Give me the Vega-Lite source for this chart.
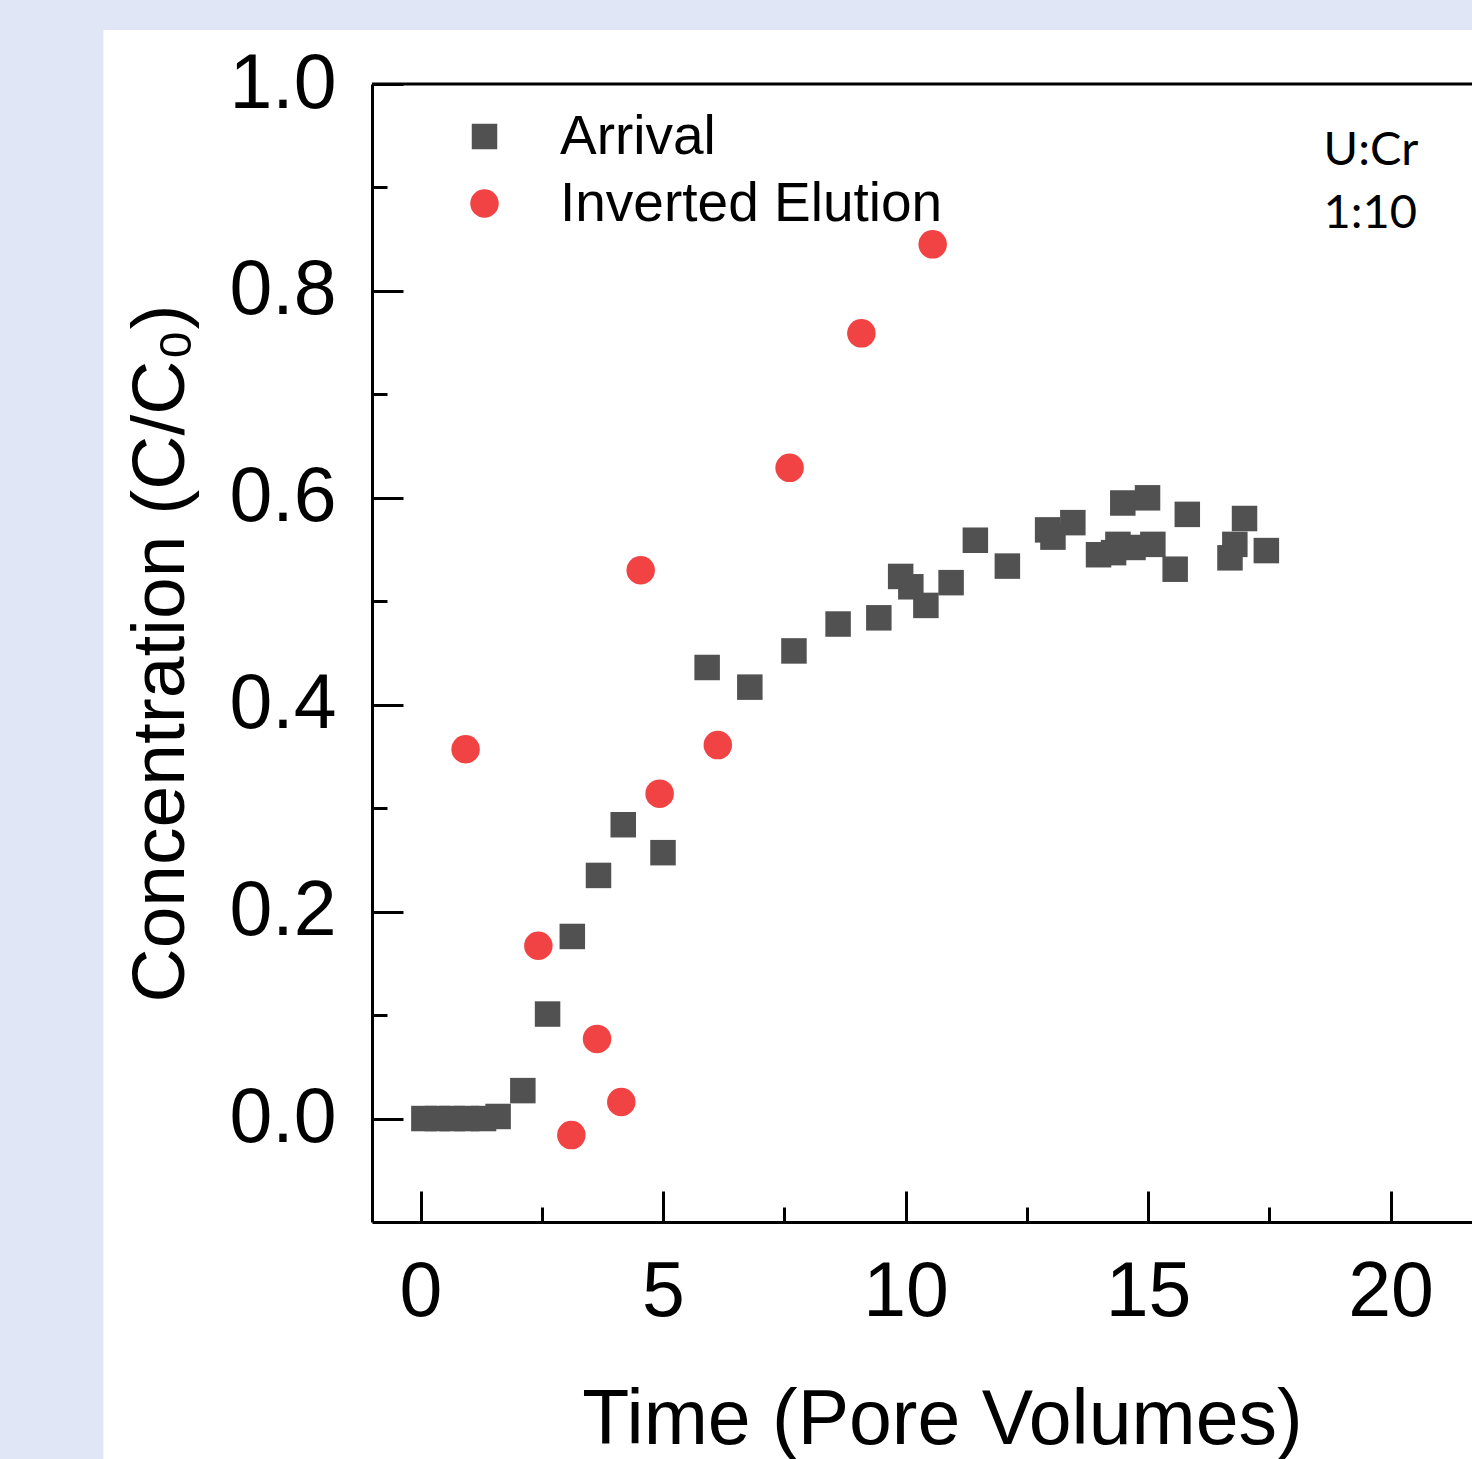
{
  "$schema": "https://vega.github.io/schema/vega-lite/v6.json",
  "autosize": {"type": "none"},
  "padding": {"left": 372, "top": 84, "right": 0, "bottom": 237},
  "width": 1100,
  "height": 1138,
  "background": "#E0E6F5",
  "config": {"font": "Liberation Sans", "view": {"stroke": null}},
  "datasets": {
    "points": [
      {"series": "Arrival", "pv": 0.07, "c": 0.0},
      {"series": "Arrival", "pv": 0.35, "c": 0.0},
      {"series": "Arrival", "pv": 0.65, "c": 0.0},
      {"series": "Arrival", "pv": 0.95, "c": 0.0},
      {"series": "Arrival", "pv": 1.3, "c": 0.0},
      {"series": "Arrival", "pv": 1.6, "c": 0.002},
      {"series": "Arrival", "pv": 2.11, "c": 0.027},
      {"series": "Arrival", "pv": 2.62, "c": 0.101},
      {"series": "Arrival", "pv": 3.13, "c": 0.176},
      {"series": "Arrival", "pv": 3.67, "c": 0.235},
      {"series": "Arrival", "pv": 4.18, "c": 0.284},
      {"series": "Arrival", "pv": 5.0, "c": 0.257},
      {"series": "Arrival", "pv": 5.91, "c": 0.436},
      {"series": "Arrival", "pv": 6.79, "c": 0.417},
      {"series": "Arrival", "pv": 7.7, "c": 0.452},
      {"series": "Arrival", "pv": 8.61, "c": 0.478},
      {"series": "Arrival", "pv": 9.45, "c": 0.484},
      {"series": "Arrival", "pv": 9.9, "c": 0.524},
      {"series": "Arrival", "pv": 10.11, "c": 0.514},
      {"series": "Arrival", "pv": 10.42, "c": 0.496},
      {"series": "Arrival", "pv": 10.94, "c": 0.518},
      {"series": "Arrival", "pv": 11.44, "c": 0.559},
      {"series": "Arrival", "pv": 12.1, "c": 0.534},
      {"series": "Arrival", "pv": 12.93, "c": 0.569},
      {"series": "Arrival", "pv": 13.04, "c": 0.562},
      {"series": "Arrival", "pv": 13.45, "c": 0.576},
      {"series": "Arrival", "pv": 13.98, "c": 0.545},
      {"series": "Arrival", "pv": 14.29, "c": 0.547},
      {"series": "Arrival", "pv": 14.38, "c": 0.555},
      {"series": "Arrival", "pv": 14.48, "c": 0.595},
      {"series": "Arrival", "pv": 14.69, "c": 0.552},
      {"series": "Arrival", "pv": 14.99, "c": 0.6},
      {"series": "Arrival", "pv": 15.1, "c": 0.555},
      {"series": "Arrival", "pv": 15.56, "c": 0.531},
      {"series": "Arrival", "pv": 15.81, "c": 0.584},
      {"series": "Arrival", "pv": 16.69, "c": 0.542},
      {"series": "Arrival", "pv": 16.79, "c": 0.555},
      {"series": "Arrival", "pv": 16.99, "c": 0.58},
      {"series": "Arrival", "pv": 17.44, "c": 0.549},
      {"series": "Inverted Elution", "pv": 0.93, "c": 0.357},
      {"series": "Inverted Elution", "pv": 2.43, "c": 0.167},
      {"series": "Inverted Elution", "pv": 3.11, "c": -0.016},
      {"series": "Inverted Elution", "pv": 3.64, "c": 0.077},
      {"series": "Inverted Elution", "pv": 4.14, "c": 0.016},
      {"series": "Inverted Elution", "pv": 4.54, "c": 0.53},
      {"series": "Inverted Elution", "pv": 4.93, "c": 0.314},
      {"series": "Inverted Elution", "pv": 6.13, "c": 0.361},
      {"series": "Inverted Elution", "pv": 7.61, "c": 0.629},
      {"series": "Inverted Elution", "pv": 9.09, "c": 0.759},
      {"series": "Inverted Elution", "pv": 10.56, "c": 0.845}
    ]
  },
  "layer": [
    {
      "data": {"values": [{}]},
      "mark": {"type": "rect", "color": "white"},
      "encoding": {
        "x": {"datum": -6.536, "type": "quantitative", "scale": {"domain": [-1, 21.68], "nice": false, "zero": false},
          "axis": {
            "title": "Time (Pore Volumes)",
            "values": [0, 2.5, 5, 7.5, 10, 12.5, 15, 17.5, 20],
            "format": "d",
            "labelExpr": "datum.value % 5 == 0 ? datum.label : ''",
            "grid": false, "zindex": 1,
            "domainColor": "black", "domainWidth": 3,
            "tickColor": "black", "tickWidth": 3,
            "tickSize": {"condition": {"test": "datum.value % 5 == 0", "value": -31}, "value": -15},
            "labelPadding": 63,
            "labelFontSize": 77, "labelColor": "black", "labelFont": "Liberation Sans",
            "labelFlush": false, "labelOverlap": false,
            "titleFontSize": 77, "titleFontWeight": "normal", "titleColor": "black", "titleFont": "Liberation Sans",
            "titleX": 570, "titleY": 221, "titleBaseline": "alphabetic", "titleAlign": "center", "titleAnchor": null
          }},
        "x2": {"datum": 25},
        "y": {"datum": 1.0522, "type": "quantitative", "scale": {"domain": [-0.1, 1.0], "nice": false, "zero": false},
          "axis": {
            "title": "Concentration (C/C₀)",
            "values": [0, 0.1, 0.2, 0.3, 0.4, 0.5, 0.6, 0.7, 0.8, 0.9, 1.0],
            "format": ".1f",
            "labelExpr": "abs(round(datum.value * 10)) % 2 == 0 ? datum.label : ''",
            "grid": false, "zindex": 1,
            "domainColor": "black", "domainWidth": 3,
            "tickColor": "black", "tickWidth": 3,
            "tickSize": {"condition": {"test": "abs(round(datum.value * 10)) % 2 == 0", "value": -31}, "value": -15},
            "labelPadding": 67,
            "labelFontSize": 77, "labelColor": "black", "labelFont": "Liberation Sans",
            "labelFlush": false, "labelOverlap": false, "labelBaseline": "middle",
            "titleFontSize": 75, "titleFontWeight": "normal", "titleColor": "black", "titleFont": "Liberation Sans",
            "titleX": -189, "titleY": 569, "titleAngle": -90, "titleBaseline": "alphabetic", "titleAlign": "center", "titleAnchor": null
          }},
        "y2": {"datum": -0.5}
      }
    },
    {
      "data": {"values": [{}]},
      "mark": {"type": "rule", "color": "black", "strokeWidth": 3},
      "encoding": {
        "y": {"datum": 1.0, "type": "quantitative", "scale": {"domain": [-0.1, 1.0], "nice": false, "zero": false},
          "axis": {
            "title": "Concentration (C/C₀)",
            "values": [0, 0.1, 0.2, 0.3, 0.4, 0.5, 0.6, 0.7, 0.8, 0.9, 1.0],
            "format": ".1f",
            "labelExpr": "abs(round(datum.value * 10)) % 2 == 0 ? datum.label : ''",
            "grid": false, "zindex": 1,
            "domainColor": "black", "domainWidth": 3,
            "tickColor": "black", "tickWidth": 3,
            "tickSize": {"condition": {"test": "abs(round(datum.value * 10)) % 2 == 0", "value": -31}, "value": -15},
            "labelPadding": 67,
            "labelFontSize": 77, "labelColor": "black", "labelFont": "Liberation Sans",
            "labelFlush": false, "labelOverlap": false, "labelBaseline": "middle",
            "titleFontSize": 75, "titleFontWeight": "normal", "titleColor": "black", "titleFont": "Liberation Sans",
            "titleX": -189, "titleY": 569, "titleAngle": -90, "titleBaseline": "alphabetic", "titleAlign": "center", "titleAnchor": null
          }}
      }
    },
    {
      "data": {"name": "points"},
      "mark": {"type": "point", "filled": true, "opacity": 1, "strokeWidth": 0},
      "encoding": {
        "x": {
          "field": "pv", "type": "quantitative",
          "scale": {"domain": [-1, 21.68], "nice": false, "zero": false},
          "axis": {
            "title": "Time (Pore Volumes)",
            "values": [0, 2.5, 5, 7.5, 10, 12.5, 15, 17.5, 20],
            "format": "d",
            "labelExpr": "datum.value % 5 == 0 ? datum.label : ''",
            "grid": false, "zindex": 1,
            "domainColor": "black", "domainWidth": 3,
            "tickColor": "black", "tickWidth": 3,
            "tickSize": {"condition": {"test": "datum.value % 5 == 0", "value": -31}, "value": -15},
            "labelPadding": 63,
            "labelFontSize": 77, "labelColor": "black", "labelFont": "Liberation Sans",
            "labelFlush": false, "labelOverlap": false,
            "titleFontSize": 77, "titleFontWeight": "normal", "titleColor": "black", "titleFont": "Liberation Sans",
            "titleX": 570, "titleY": 221, "titleBaseline": "alphabetic", "titleAlign": "center", "titleAnchor": null
          }
        },
        "y": {
          "field": "c", "type": "quantitative",
          "scale": {"domain": [-0.1, 1.0], "nice": false, "zero": false},
          "axis": {
            "title": "Concentration (C/C₀)",
            "values": [0, 0.1, 0.2, 0.3, 0.4, 0.5, 0.6, 0.7, 0.8, 0.9, 1.0],
            "format": ".1f",
            "labelExpr": "abs(round(datum.value * 10)) % 2 == 0 ? datum.label : ''",
            "grid": false, "zindex": 1,
            "domainColor": "black", "domainWidth": 3,
            "tickColor": "black", "tickWidth": 3,
            "tickSize": {"condition": {"test": "abs(round(datum.value * 10)) % 2 == 0", "value": -31}, "value": -15},
            "labelPadding": 67,
            "labelFontSize": 77, "labelColor": "black", "labelFont": "Liberation Sans",
            "labelFlush": false, "labelOverlap": false, "labelBaseline": "middle",
            "titleFontSize": 75, "titleFontWeight": "normal", "titleColor": "black", "titleFont": "Liberation Sans",
            "titleX": -189, "titleY": 569, "titleAngle": -90, "titleBaseline": "alphabetic", "titleAlign": "center", "titleAnchor": null
          }
        },
        "color": {
          "field": "series", "type": "nominal",
          "scale": {"domain": ["Arrival", "Inverted Elution"], "range": ["#515151", "#F14343"]},
          "legend": {"orient": "none", "legendX": 85, "legendY": 25, "title": null, "padding": 0, "labelFontSize": 55, "labelFont": "Liberation Sans", "labelColor": "black", "labelOffset": 48, "rowPadding": 11, "labelLimit": 0, "symbolStrokeWidth": 0, "symbolOpacity": 1}
        },
        "shape": {
          "field": "series", "type": "nominal",
          "scale": {"domain": ["Arrival", "Inverted Elution"], "range": ["square", "circle"]},
          "legend": {"orient": "none", "legendX": 85, "legendY": 25, "title": null, "padding": 0, "labelFontSize": 55, "labelFont": "Liberation Sans", "labelColor": "black", "labelOffset": 48, "rowPadding": 11, "labelLimit": 0, "symbolStrokeWidth": 0, "symbolOpacity": 1}
        },
        "size": {
          "field": "series", "type": "nominal",
          "scale": {"domain": ["Arrival", "Inverted Elution"], "range": [650, 812]},
          "legend": {"orient": "none", "legendX": 85, "legendY": 25, "title": null, "padding": 0, "labelFontSize": 55, "labelFont": "Liberation Sans", "labelColor": "black", "labelOffset": 48, "rowPadding": 11, "labelLimit": 0, "symbolStrokeWidth": 0, "symbolOpacity": 1}
        }
      }
    },
    {
      "data": {"values": [{}]},
      "mark": {"type": "text", "align": "left", "baseline": "alphabetic", "font": "Lato", "fontSize": 47, "color": "black", "lineHeight": 63},
      "encoding": {
        "x": {"datum": 18.62, "type": "quantitative", "scale": {"domain": [-1, 21.68], "nice": false, "zero": false},
          "axis": {
            "title": "Time (Pore Volumes)",
            "values": [0, 2.5, 5, 7.5, 10, 12.5, 15, 17.5, 20],
            "format": "d",
            "labelExpr": "datum.value % 5 == 0 ? datum.label : ''",
            "grid": false, "zindex": 1,
            "domainColor": "black", "domainWidth": 3,
            "tickColor": "black", "tickWidth": 3,
            "tickSize": {"condition": {"test": "datum.value % 5 == 0", "value": -31}, "value": -15},
            "labelPadding": 63,
            "labelFontSize": 77, "labelColor": "black", "labelFont": "Liberation Sans",
            "labelFlush": false, "labelOverlap": false,
            "titleFontSize": 77, "titleFontWeight": "normal", "titleColor": "black", "titleFont": "Liberation Sans",
            "titleX": 570, "titleY": 221, "titleBaseline": "alphabetic", "titleAlign": "center", "titleAnchor": null
          }},
        "y": {"datum": 0.9217, "type": "quantitative", "scale": {"domain": [-0.1, 1.0], "nice": false, "zero": false},
          "axis": {
            "title": "Concentration (C/C₀)",
            "values": [0, 0.1, 0.2, 0.3, 0.4, 0.5, 0.6, 0.7, 0.8, 0.9, 1.0],
            "format": ".1f",
            "labelExpr": "abs(round(datum.value * 10)) % 2 == 0 ? datum.label : ''",
            "grid": false, "zindex": 1,
            "domainColor": "black", "domainWidth": 3,
            "tickColor": "black", "tickWidth": 3,
            "tickSize": {"condition": {"test": "abs(round(datum.value * 10)) % 2 == 0", "value": -31}, "value": -15},
            "labelPadding": 67,
            "labelFontSize": 77, "labelColor": "black", "labelFont": "Liberation Sans",
            "labelFlush": false, "labelOverlap": false, "labelBaseline": "middle",
            "titleFontSize": 75, "titleFontWeight": "normal", "titleColor": "black", "titleFont": "Liberation Sans",
            "titleX": -189, "titleY": 569, "titleAngle": -90, "titleBaseline": "alphabetic", "titleAlign": "center", "titleAnchor": null
          }},
        "text": {"value": ["U:Cr", "1:10"]}
      }
    }
  ]
}
